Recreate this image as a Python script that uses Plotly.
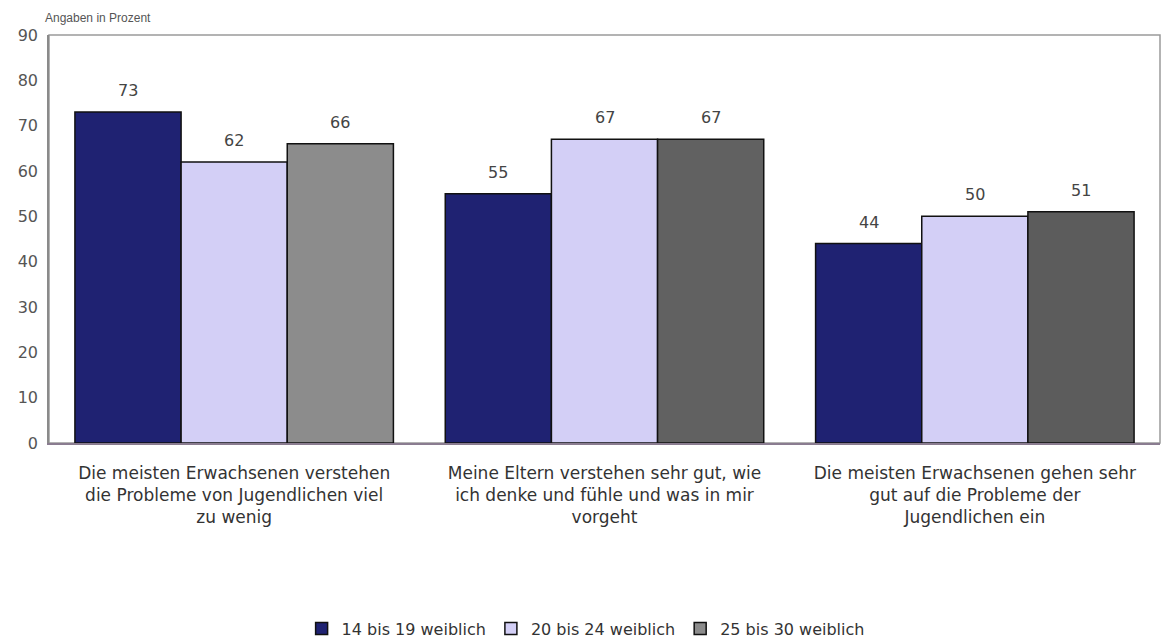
import plotly.graph_objects as go

# Survey statements (x categories)
categories = [
    "Die meisten Erwachsenen verstehen<br>die Probleme von Jugendlichen viel<br>zu wenig",
    "Meine Eltern verstehen sehr gut, wie<br>ich denke und fühle und was in mir<br>vorgeht",
    "Die meisten Erwachsenen gehen sehr<br>gut auf die Probleme der<br>Jugendlichen ein",
]

# Share of agreement per age group (percent)
series_names = ["14 bis 19 weiblich", "20 bis 24 weiblich", "25 bis 30 weiblich"]
values_14_19 = [73, 55, 44]
values_20_24 = [62, 67, 50]
values_25_30 = [66, 67, 51]

y_ticks = [0, 10, 20, 30, 40, 50, 60, 70, 80, 90]

fill_colors = [
    "#1f2272",
    "#d3cff6",
    ["#8c8c8c", "#616161", "#5c5c5c"],
]

FONT = "DejaVu Sans, Liberation Sans, Arial, sans-serif"
WIDTH, HEIGHT = 1169, 640
MARGIN = dict(l=49, r=9, t=35, b=197)
BARGAP = 0.14

all_series = [values_14_19, values_20_24, values_25_30]

fig = go.Figure()
for name, vals, col in zip(series_names, all_series, fill_colors):
    fig.add_trace(go.Bar(
        name=name,
        x=categories,
        y=vals,
        marker=dict(color=col, line=dict(color="#111111", width=1.5)),
        cliponaxis=False,
    ))

# Value labels above each bar, offset horizontally to the bar's slot in its group
plot_w = WIDTH - MARGIN["l"] - MARGIN["r"]
slot_px = plot_w / len(categories) * (1 - BARGAP) / len(all_series)
labels = []
for i, vals in enumerate(all_series):
    for cat, v in zip(categories, vals):
        labels.append(dict(
            x=cat, y=v, xref="x", yref="y",
            text=str(v), showarrow=False,
            xanchor="center", yanchor="bottom",
            xshift=(i - (len(all_series) - 1) / 2) * slot_px,
            yshift=10,
            font=dict(family=FONT, size=16, color="#444444"),
        ))

labels.append(dict(
    text="Angaben in Prozent",
    xref="paper", yref="paper",
    x=-0.0054, y=1.042,
    xanchor="left", yanchor="middle",
    showarrow=False,
    font=dict(family="Liberation Sans, Arial, sans-serif", size=12, color="#555555"),
))

fig.update_layout(
    barmode="group",
    bargap=BARGAP,
    bargroupgap=0,
    width=WIDTH,
    height=HEIGHT,
    margin=dict(**MARGIN, autoexpand=False),
    paper_bgcolor="white",
    plot_bgcolor="white",
    font=dict(family=FONT, color="#444444"),
    showlegend=True,
    legend=dict(
        orientation="h",
        x=0.483, xanchor="center",
        y=-0.455, yanchor="middle",
        font=dict(size=16, color="#333333"),
        itemwidth=30,
        tracegroupgap=0,
    ),
    annotations=labels,
)

fig.update_xaxes(
    showline=True, linecolor="#8a7c90", linewidth=1.5,
    mirror=False,
    automargin=False,
    tickfont=dict(size=17, color="#333333"),
    ticks="",
    ticklabelstandoff=14,
)
fig.update_yaxes(
    range=[0, 90],
    tickvals=y_ticks,
    showgrid=False,
    zeroline=False,
    automargin=False,
    showline=True, linecolor="#8a8a8a", linewidth=1.5,
    ticks="", ticklen=0,
    ticklabelstandoff=6,
    tickfont=dict(size=16, color="#555555"),
)

# Plot frame (top and right border)
fig.add_shape(type="rect", xref="paper", yref="paper", x0=0, y0=0, x1=1, y1=1,
              line=dict(color="#9a9a9a", width=1.5), layer="below")

fig.write_html("out.html")
